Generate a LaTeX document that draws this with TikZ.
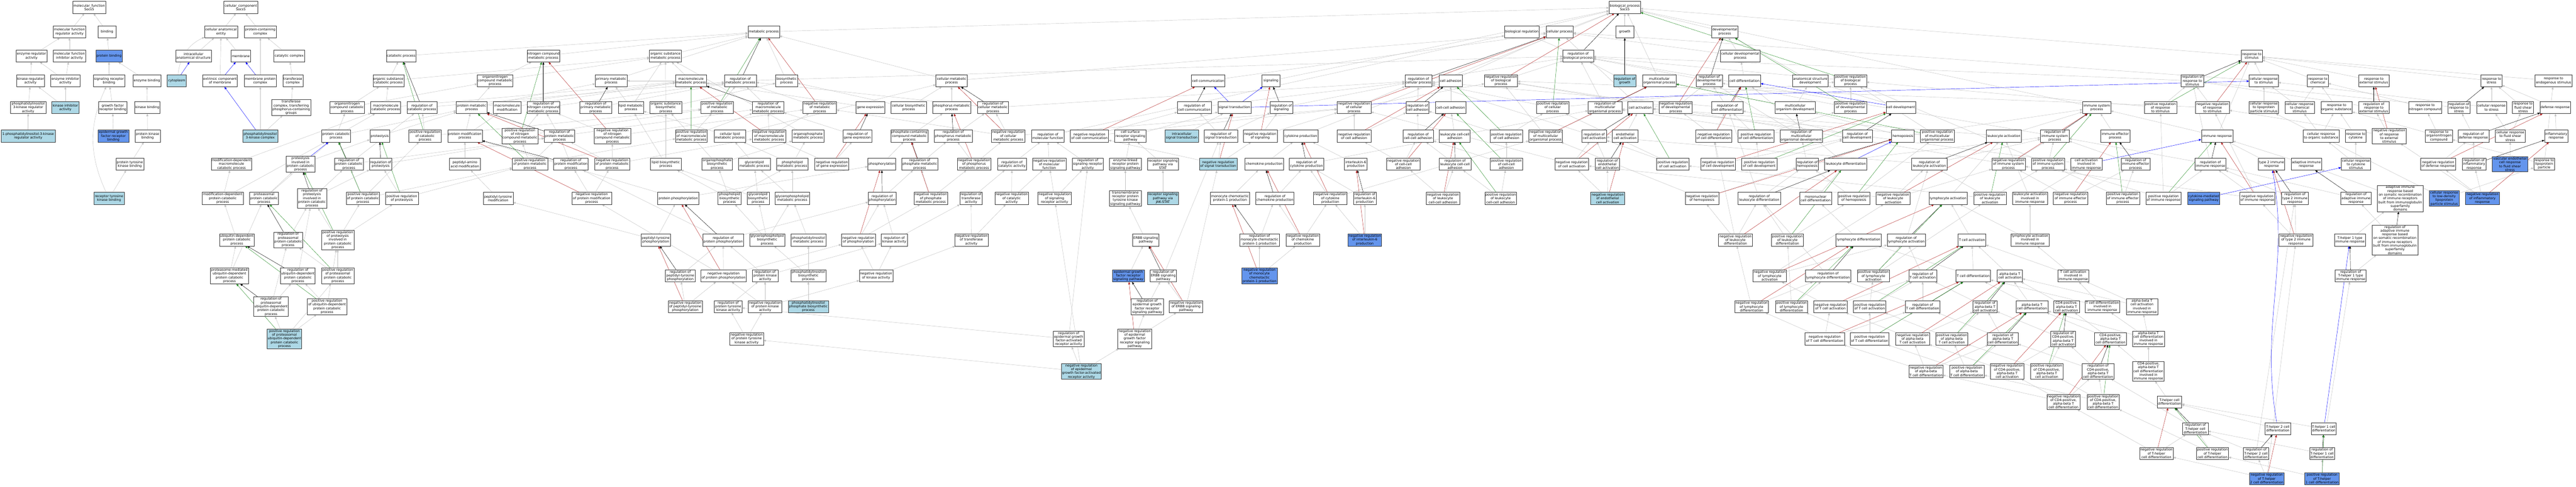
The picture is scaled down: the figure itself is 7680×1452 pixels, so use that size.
\documentclass[tikz,border=0pt]{standalone}
\usepackage{fontspec}
\setmainfont{DejaVu Sans}
\usetikzlibrary{arrows.meta}
\definecolor{hitlight}{RGB}{173,216,230}
\definecolor{hitdark}{RGB}{100,149,237}
\definecolor{edgegray}{RGB}{192,192,192}
\definecolor{negred}{RGB}{178,34,34}
\definecolor{posgreen}{RGB}{34,139,34}
\pgfdeclarelayer{background}
\pgfsetlayers{background,main}
\tikzset{
    term/.style={draw=black!80, fill=white, line width=0.8pt, align=center,
        inner xsep=1pt, inner ysep=2pt, minimum height=36pt,
        font=\fontsize{9.8}{11.2}\selectfont},
    lighthit/.style={term, fill=hitlight},
    darkhit/.style={term, fill=hitdark},
    isa/.style={draw=edgegray, line width=0.7pt,
        -{Triangle[length=7pt, width=6pt]}},
    regs/.style={isa, draw=black},
    posregs/.style={isa, draw=posgreen},
    negregs/.style={isa, draw=negred},
    partof/.style={isa, draw=blue},
}

\begin{document}
\begin{tikzpicture}[x=1pt, y=-1pt]
        \useasboundingbox (0,0) rectangle (7680,1452);

        % molecular function
        \node[term, minimum width=99pt] (mfroot) at (266,22) {molecular\_function\\Socs5};
        \node[term, minimum width=97pt] (mfreg) at (207,95) {molecular function\\regulator activity};
        \node[term, minimum width=55pt] (binding) at (319,95) {binding};
        \node[term, minimum width=92pt] (enzreg) at (94,167) {enzyme regulator\\activity};
        \node[term, minimum width=97pt] (mfinh) at (207,167) {molecular function\\inhibitor activity};
        \node[darkhit, minimum width=79pt] (protbind) at (325,167) {protein binding};
        \node[term, minimum width=84pt] (kinreg) at (91,241) {kinase regulator\\activity};
        \node[term, minimum width=87pt] (enzinh) at (195,241) {enzyme inhibitor\\activity};
        \node[term, minimum width=93pt] (sigrecbind) at (325,241) {signaling receptor\\binding};
        \node[term, minimum width=83pt] (enzbind) at (438,241) {enzyme binding};
        \node[term, minimum width=105pt] (pi3kreg) at (84,321) {phosphatidylinositol\\3-kinase regulator\\activity};
        \node[lighthit, minimum width=81pt] (kininh) at (195,321) {kinase inhibitor\\activity};
        \node[term, minimum width=85pt] (gfrecbind) at (336,321) {growth factor\\receptor binding};
        \node[term, minimum width=76pt] (kinbind) at (439,321) {kinase binding};
        \node[lighthit, minimum width=161pt] (onepi3kreg) at (84,406) {1-phosphatidylinositol-3-kinase\\regulator activity};
        \node[darkhit, minimum width=92pt] (egfrecbind) at (338,406) {epidermal growth\\factor receptor\\binding};
        \node[term, minimum width=75pt] (pkinbind) at (440,406) {protein kinase\\binding};
        \node[term, minimum width=83pt] (ptkbind) at (387,490) {protein tyrosine\\kinase binding};
        \node[lighthit, minimum width=90pt] (rtkbind) at (325,592) {receptor tyrosine\\kinase binding};

        % cellular component
        \node[term, minimum width=102pt] (ccroot) at (718,22) {cellular\_component\\Socs5};
        \node[term, minimum width=98pt] (ccanat) at (659,95) {cellular anatomical\\entity};
        \node[term, minimum width=94pt] (protcomplex) at (776,95) {protein-containing\\complex};
        \node[term, minimum width=107pt] (intracell) at (577,167) {intracellular\\anatomical structure};
        \node[term, minimum width=59pt] (membrane) at (718,167) {membrane};
        \node[term, minimum width=92pt] (catcomplex) at (862,167) {catalytic complex};
        \node[lighthit, minimum width=57pt] (cytoplasm) at (527,241) {cytoplasm};
        \node[term, minimum width=103pt] (extmem) at (656,241) {extrinsic component\\of membrane};
        \node[term, minimum width=95pt] (memprotcomplex) at (776,241) {membrane protein\\complex};
        \node[term, minimum width=60pt] (transcomplex) at (873,241) {transferase\\complex};
        \node[term, minimum width=117pt] (transphos) at (868,321) {transferase\\complex, transferring\\phosphorus-containing\\groups};
        \node[lighthit, minimum width=104pt] (pi3kcomplex) at (776,406) {phosphatidylinositol\\3-kinase complex};

        % biological process, ranks 0-3
        \node[term, minimum width=94pt] (bproot) at (4844,22) {biological\_process\\Socs5};
        \node[term, minimum width=94pt] (metab) at (2277,95) {metabolic process};
        \node[term, minimum width=104pt] (bioreg) at (4537,95) {biological regulation};
        \node[term, minimum width=81pt] (cellproc) at (4650,95) {cellular process};
        \node[term, minimum width=54pt] (growth) at (4844,95) {growth};
        \node[term, minimum width=78pt] (devproc) at (5142,95) {developmental\\process};
        \node[term, minimum width=88pt] (catab) at (1196,167) {catabolic process};
        \node[term, minimum width=96pt] (nitromet) at (1620,167) {nitrogen compound\\metabolic process};
        \node[term, minimum width=95pt] (orgsubmet) at (1984,167) {organic substance\\metabolic process};
        \node[term, minimum width=91pt] (regbio) at (4705,167) {regulation of\\biological process};
        \node[term, minimum width=118pt] (celldevproc) at (5188,167) {cellular developmental\\process};
        \node[term, minimum width=63pt] (respstim) at (6713,167) {response to\\stimulus};
        \node[term, minimum width=92pt] (orgsubcat) at (1158,241) {organic substance\\catabolic process};
        \node[term, minimum width=106pt] (orgnitmet) at (1476,241) {organonitrogen\\compound metabolic\\process};
        \node[term, minimum width=95pt] (primmet) at (1822,241) {primary metabolic\\process};
        \node[term, minimum width=93pt] (macromet) at (2060,241) {macromolecule\\metabolic process};
        \node[term, minimum width=95pt] (regmetab) at (2207,241) {regulation of\\metabolic process};
        \node[term, minimum width=66pt] (biosyn) at (2345,241) {biosynthetic\\process};
        \node[term, minimum width=94pt] (cellmet) at (2837,241) {cellular metabolic\\process};
        \node[term, minimum width=100pt] (cellcomm) at (3602,241) {cell communication};
        \node[term, minimum width=54pt] (signaling) at (3789,241) {signaling};
        \node[term, minimum width=81pt] (regcellproc) at (4229,241) {regulation of\\cellular process};
        \node[term, minimum width=69pt] (celladh) at (4325,241) {cell adhesion};
        \node[term, minimum width=99pt] (negregbio) at (4475,241) {negative regulation\\of biological\\process};
        \node[lighthit, minimum width=65pt] (reggrowth) at (4844,241) {regulation of\\growth};
        \node[term, minimum width=100pt] (multorg) at (4947,241) {multicellular\\organismal process};
        \node[term, minimum width=78pt] (regdev) at (5096,241) {regulation of\\developmental\\process};
        \node[term, minimum width=96pt] (celldiff) at (5201,241) {cell differentiation};
        \node[term, minimum width=107pt] (anatdev) at (5397,241) {anatomical structure\\development};
        \node[term, minimum width=96pt] (posregbio) at (5517,241) {positive regulation\\of biological\\process};
        \node[term, minimum width=68pt] (regresp) at (6536,241) {regulation of\\response to\\stimulus};
        \node[term, minimum width=87pt] (cellrespstim) at (6749,241) {cellular response\\to stimulus};
        \node[term, minimum width=62pt] (respchem) at (6910,241) {response to\\chemical};
        \node[term, minimum width=91pt] (respext) at (7077,241) {response to\\external stimulus};
        \node[term, minimum width=63pt] (respstress) at (7428,241) {response to\\stress};
        \node[term, minimum width=110pt] (respendo) at (7613,241) {response to\\endogenous stimulus};

        % rank 4
        \node[term, minimum width=103pt] (orgnitcat) at (1035,321) {organonitrogen\\compound catabolic\\process};
        \node[term, minimum width=89pt] (macrocat) at (1150,321) {macromolecule\\catabolic process};
        \node[term, minimum width=89pt] (regcatab) at (1258,321) {regulation of\\catabolic process};
        \node[term, minimum width=91pt] (protmet) at (1406,321) {protein metabolic\\process};
        \node[term, minimum width=82pt] (macromod) at (1512,321) {macromolecule\\modification};
        \node[term, minimum width=96pt] (regnitmet) at (1620,321) {regulation of\\nitrogen compound\\metabolic process};
        \node[term, minimum width=94pt] (regprimmet) at (1776,321) {regulation of\\primary metabolic\\process};
        \node[term, minimum width=76pt] (lipidmet) at (1881,321) {lipid metabolic\\process};
        \node[term, minimum width=94pt] (orgsubbio) at (1985,321) {organic substance\\biosynthetic\\process};
        \node[term, minimum width=96pt] (posregmet) at (2138,321) {positive regulation\\of metabolic\\process};
        \node[term, minimum width=94pt] (regmacromet) at (2290,321) {regulation of\\macromolecule\\metabolic process};
        \node[term, minimum width=100pt] (negregmet) at (2444,321) {negative regulation\\of metabolic\\process};
        \node[term, minimum width=86pt] (geneexp) at (2595,321) {gene expression};
        \node[term, minimum width=106pt] (cellbio) at (2709,321) {cellular biosynthetic\\process};
        \node[term, minimum width=114pt] (phosmet) at (2837,321) {phosphorus metabolic\\process};
        \node[term, minimum width=93pt] (regcellmet) at (2960,321) {regulation of\\cellular metabolic\\process};
        \node[term, minimum width=102pt] (regcellcomm) at (3561,321) {regulation of\\cell communication};
        \node[term, minimum width=98pt] (sigtrans) at (3680,321) {signal transduction};
        \node[term, minimum width=67pt] (regsig) at (3820,321) {regulation of\\signaling};
        \node[term, minimum width=101pt] (negregcell) at (4037,321) {negative regulation\\of cellular\\process};
        \node[term, minimum width=68pt] (regcelladh) at (4226,321) {regulation of\\cell adhesion};
        \node[term, minimum width=90pt] (cellcelladh) at (4325,321) {cell-cell adhesion};
        \node[term, minimum width=98pt] (posregcell) at (4629,321) {positive regulation\\of cellular\\process};
        \node[term, minimum width=101pt] (regmultorg) at (4785,321) {regulation of\\multicellular\\organismal process};
        \node[term, minimum width=76pt] (cellact) at (4890,321) {cell activation};
        \node[term, minimum width=98pt] (negregdev) at (4996,321) {negative regulation\\of developmental\\process};
        \node[term, minimum width=93pt] (regcelldiff) at (5150,321) {regulation of\\cell differentiation};
        \node[term, minimum width=119pt] (multdev) at (5352,321) {multicellular\\organism development};
        \node[term, minimum width=96pt] (posregdev) at (5517,321) {positive regulation\\of developmental\\process};
        \node[term, minimum width=88pt] (celldev) at (5667,321) {cell development};
        \node[term, minimum width=84pt] (immsys) at (6251,321) {immune system\\process};
        \node[term, minimum width=97pt] (posregresp) at (6441,321) {positive regulation\\of response\\to stimulus};
        \node[term, minimum width=101pt] (negregresp) at (6596,321) {negative regulation\\of response\\to stimulus};
        \node[term, minimum width=87pt] (cellresplipo) at (6749,321) {cellular response\\to lipoprotein\\particle stimulus};
        \node[term, minimum width=87pt] (respchemcell) at (6856,321) {cellular response\\to chemical\\stimulus};
        \node[term, minimum width=93pt] (resporg) at (6966,321) {response to\\organic substance};
        \node[term, minimum width=91pt] (regrespext) at (7077,321) {regulation of\\response to\\external stimulus};
        \node[term, minimum width=99pt] (respnit) at (7230,321) {response to\\nitrogen compound};
        \node[term, minimum width=67pt] (regrespstress) at (7331,321) {regulation of\\response to\\stress};
        \node[term, minimum width=89pt] (cellrespstress) at (7428,321) {cellular response\\to stress};
        \node[term, minimum width=63pt] (respshear) at (7522,321) {response to\\fluid shear\\stress};
        \node[term, minimum width=90pt] (defresp) at (7618,321) {defense response};

        % rank 5
        \node[term, minimum width=86pt] (protcat) at (1002,406) {protein catabolic\\process};
        \node[term, minimum width=59pt] (proteolysis) at (1132,406) {proteolysis};
        \node[term, minimum width=96pt] (posregcatab) at (1267,406) {positive regulation\\of catabolic\\process};
        \node[term, minimum width=103pt] (protmod) at (1386,406) {protein modification\\process};
        \node[term, minimum width=108pt] (posregnitmet) at (1550,406) {positive regulation\\of nitrogen\\compound metabolic\\process};
        \node[term, minimum width=91pt] (regprotmet) at (1668,406) {regulation of\\protein metabolic\\process};
        \node[term, minimum width=108pt] (negregnitmet) at (1826,406) {negative regulation\\of nitrogen\\compound metabolic\\process};
        \node[term, minimum width=94pt] (posregmacromet) at (2061,406) {positive regulation\\of macromolecule\\metabolic process};
        \node[term, minimum width=93pt] (celllipid) at (2176,406) {cellular lipid\\metabolic process};
        \node[term, minimum width=101pt] (negregmacromet) at (2293,406) {negative regulation\\of macromolecule\\metabolic process};
        \node[term, minimum width=95pt] (orgphosmet) at (2409,406) {organophosphate\\metabolic process};
        \node[term, minimum width=86pt] (reggeneexp) at (2556,406) {regulation of\\gene expression};
        \node[term, minimum width=110pt] (phoscontmet) at (2711,406) {phosphate-containing\\compound metabolic\\process};
        \node[term, minimum width=114pt] (regphosmet) at (2842,406) {regulation of\\phosphorus metabolic\\process};
        \node[term, minimum width=100pt] (negregcellmet) at (3006,406) {negative regulation\\of cellular\\metabolic process};
        \node[term, minimum width=96pt] (regmolfunc) at (3124,406) {regulation of\\molecular function};
        \node[term, minimum width=114pt] (negregcellcomm) at (3248,406) {negative regulation\\of cell communication};
        \node[term, minimum width=94pt] (cellsurf) at (3370,406) {cell surface\\receptor signaling\\pathway};
        \node[lighthit, minimum width=99pt] (intrasig) at (3523,406) {intracellular\\signal transduction};
        \node[term, minimum width=100pt] (regsigtrans) at (3640,406) {regulation of\\signal transduction};
        \node[term, minimum width=101pt] (negregsig) at (3757,406) {negative regulation\\of signaling};
        \node[term, minimum width=102pt] (cytprod) at (3878,406) {cytokine production};
        \node[term, minimum width=100pt] (negregcelladh) at (4037,406) {negative regulation\\of cell adhesion};
        \node[term, minimum width=91pt] (regccadh) at (4228,406) {regulation of\\cell-cell adhesion};
        \node[term, minimum width=92pt] (leukccadh) at (4337,406) {leukocyte cell-cell\\adhesion};
        \node[term, minimum width=97pt] (posregcelladh) at (4491,406) {positive regulation\\of cell adhesion};
        \node[term, minimum width=100pt] (negregmultorg) at (4608,406) {negative regulation\\of multicellular\\organismal process};
        \node[term, minimum width=74pt] (regcellact) at (4753,406) {regulation of\\cell activation};
        \node[term, minimum width=76pt] (endoact) at (4845,406) {endothelial\\cell activation};
        \node[term, minimum width=108pt] (negregcelldiff) at (5109,406) {negative regulation\\of cell differentiation};
        \node[term, minimum width=109pt] (posregcelldiff) at (5235,406) {positive regulation\\of cell differentiation};
        \node[term, minimum width=127pt] (regmultdev) at (5370,406) {regulation of\\multicellular\\organismal development};
        \node[term, minimum width=89pt] (regcelldev) at (5537,406) {regulation of\\cell development};
        \node[term, minimum width=67pt] (hemopoiesis) at (5673,406) {hemopoiesis};
        \node[term, minimum width=101pt] (posregmultorg) at (5776,406) {positive regulation\\of multicellular\\organismal process};
        \node[term, minimum width=105pt] (leukact) at (5974,406) {leukocyte activation};
        \node[term, minimum width=86pt] (regimmsys) at (6126,406) {regulation of\\immune system\\process};
        \node[term, minimum width=87pt] (immeff) at (6306,406) {immune effector\\process};
        \node[term, minimum width=94pt] (immresp) at (6610,406) {immune response};
        \node[term, minimum width=106pt] (respcellorg) at (6920,406) {cellular response\\to organic substance};
        \node[term, minimum width=62pt] (respcyt) at (7023,406) {response to\\cytokine};
        \node[term, minimum width=101pt] (negregrespext) at (7123,406) {negative regulation\\of response\\to external\\stimulus};
        \node[term, minimum width=80pt] (respornit) at (7271,406) {response to\\organonitrogen\\compound};
        \node[term, minimum width=92pt] (regdef) at (7374,406) {regulation of\\defense response};
        \node[term, minimum width=89pt] (cellrespshear) at (7484,406) {cellular response\\to fluid shear\\stress};
        \node[term, minimum width=70pt] (inflam) at (7621,406) {inflammatory\\response};

        % rank 6
        \node[term, minimum width=121pt] (moddepmacrocat) at (690,490) {modification-dependent\\macromolecule\\catabolic process};
        \node[term, minimum width=86pt] (proteolysispcp) at (896,490) {proteolysis\\involved in\\protein catabolic\\process};
        \node[term, minimum width=87pt] (regprotcat) at (1040,490) {regulation of\\protein catabolic\\process};
        \node[term, minimum width=67pt] (regproteolysis) at (1135,490) {regulation of\\proteolysis};
        \node[term, minimum width=91pt] (peptaamod) at (1386,490) {peptidyl-amino\\acid modification};
        \node[term, minimum width=105pt] (posregprotmet) at (1580,490) {positive regulation\\of protein metabolic\\process};
        \node[term, minimum width=103pt] (regprotmod) at (1702,490) {regulation of\\protein modification\\process};
        \node[term, minimum width=105pt] (negregprotmet) at (1825,490) {negative regulation\\of protein metabolic\\process};
        \node[term, minimum width=91pt] (lipidbio) at (1985,490) {lipid biosynthetic\\process};
        \node[term, minimum width=91pt] (orgphosbio) at (2138,490) {organophosphate\\biosynthetic\\process};
        \node[term, minimum width=94pt] (glycerolipmet) at (2249,490) {glycerolipid\\metabolic process};
        \node[term, minimum width=95pt] (phoslipmet) at (2362,490) {phospholipid\\metabolic process};
        \node[term, minimum width=101pt] (negreggeneexp) at (2480,490) {negative regulation\\of gene expression};
        \node[term, minimum width=83pt] (phosphorylation) at (2629,490) {phosphorylation};
        \node[term, minimum width=108pt] (regphosphmet) at (2742,490) {regulation of\\phosphate metabolic\\process};
        \node[term, minimum width=100pt] (negregphosmet) at (2904,490) {negative regulation\\of phosphorus\\metabolic process};
        \node[term, minimum width=87pt] (regcatact) at (3017,490) {regulation of\\catalytic activity};
        \node[term, minimum width=100pt] (negregmolfunc) at (3128,490) {negative regulation\\of molecular\\function};
        \node[term, minimum width=92pt] (regsigrecact) at (3243,490) {regulation of\\signaling receptor\\activity};
        \node[term, minimum width=94pt] (enzlinked) at (3355,490) {enzyme-linked\\receptor protein\\signaling pathway};
        \node[term, minimum width=91pt] (stat) at (3467,490) {receptor signaling\\pathway via\\STAT};
        \node[lighthit, minimum width=112pt] (negregsigtrans) at (3632,490) {negative regulation\\of signal transduction};
        \node[term, minimum width=114pt] (chemprod) at (3769,490) {chemokine production};
        \node[term, minimum width=102pt] (regcytprod) at (3895,490) {regulation of\\cytokine production};
        \node[term, minimum width=67pt] (il6prod) at (4042,490) {interleukin-6\\production};
        \node[term, minimum width=100pt] (negregccadh) at (4184,490) {negative regulation\\of cell-cell\\adhesion};
        \node[term, minimum width=94pt] (regleukccadh) at (4338,490) {regulation of\\leukocyte cell-cell\\adhesion};
        \node[term, minimum width=97pt] (posregccadh) at (4491,490) {positive regulation\\of cell-cell\\adhesion};
        \node[term, minimum width=101pt] (negregcellact) at (4686,490) {negative regulation\\of cell activation};
        \node[term, minimum width=73pt] (regendoact) at (4792,490) {regulation of\\endothelial\\cell activation};
        \node[term, minimum width=96pt] (posregcellact) at (4987,490) {positive regulation\\of cell activation};
        \node[term, minimum width=102pt] (negregcelldev) at (5122,490) {negative regulation\\of cell development};
        \node[term, minimum width=105pt] (posregcelldev) at (5245,490) {positive regulation\\of cell development};
        \node[term, minimum width=67pt] (reghemo) at (5388,490) {regulation of\\hemopoiesis};
        \node[term, minimum width=126pt] (leukdiff) at (5503,490) {leukocyte differentiation};
        \node[term, minimum width=106pt] (regleukact) at (5752,490) {regulation of\\leukocyte activation};
        \node[term, minimum width=100pt] (negregimmsys) at (5988,490) {negative regulation\\of immune system\\process};
        \node[term, minimum width=97pt] (posregimmsys) at (6106,490) {positive regulation\\of immune system\\process};
        \node[term, minimum width=94pt] (cellactimm) at (6220,490) {cell activation\\involved in\\immune response};
        \node[term, minimum width=86pt] (regimmeff) at (6367,490) {regulation of\\immune effector\\process};
        \node[term, minimum width=92pt] (regimmresp) at (6590,490) {regulation of\\immune response};
        \node[term, minimum width=79pt] (type2) at (6772,490) {type 2 immune\\response};
        \node[term, minimum width=91pt] (adaptimm) at (6876,490) {adaptive immune\\response};
        \node[term, minimum width=88pt] (cellrespcyt) at (7024,490) {cellular response\\to cytokine\\stimulus};
        \node[term, minimum width=105pt] (negregdef) at (7269,490) {negative regulation\\of defense response};
        \node[term, minimum width=71pt] (reginflam) at (7376,490) {regulation of\\inflammatory\\response};
        \node[darkhit, minimum width=105pt] (vascshear) at (7483,490) {vascular endothelial\\cell response\\to fluid shear\\stress};
        \node[term, minimum width=62pt] (resplipo) at (7585,490) {response to\\lipoprotein\\particle};

        % rank 7
        \node[term, minimum width=122pt] (moddepprotcat) at (664,592) {modification-dependent\\protein catabolic\\process};
        \node[term, minimum width=86pt] (proteasomalpcp) at (787,592) {proteasomal\\protein catabolic\\process};
        \node[term, minimum width=87pt] (regproteolysispcp) at (930,592) {regulation of\\proteolysis\\involved in\\protein catabolic\\process};
        \node[term, minimum width=99pt] (posregprotcat) at (1082,592) {positive regulation\\of protein catabolic\\process};
        \node[term, minimum width=98pt] (posregproteolysis) at (1198,592) {positive regulation\\of proteolysis};
        \node[term, minimum width=89pt] (peptyrmod) at (1485,592) {peptidyl-tyrosine\\modification};
        \node[term, minimum width=118pt] (negregprotmod) at (1764,592) {negative regulation\\of protein modification\\process};
        \node[term, minimum width=122pt] (protphos) at (2022,592) {protein phosphorylation};
        \node[term, minimum width=69pt] (phoslipbio) at (2175,592) {phospholipid\\biosynthetic\\process};
        \node[term, minimum width=66pt] (glycerolipbio) at (2260,592) {glycerolipid\\biosynthetic\\process};
        \node[term, minimum width=103pt] (glycerophosmet) at (2362,592) {glycerophospholipid\\metabolic process};
        \node[term, minimum width=83pt] (regphosphorylation) at (2630,592) {regulation of\\phosphorylation};
        \node[term, minimum width=99pt] (negregphosphmet) at (2775,592) {negative regulation\\of phosphate\\metabolic process};
        \node[term, minimum width=67pt] (regtransact) at (2895,592) {regulation of\\transferase\\activity};
        \node[term, minimum width=100pt] (negregcatact) at (3016,592) {negative regulation\\of catalytic\\activity};
        \node[term, minimum width=100pt] (negregsigrecact) at (3144,592) {negative regulation\\of signaling\\receptor activity};
        \node[term, minimum width=94pt] (tmrptk) at (3355,592) {transmembrane\\receptor protein\\tyrosine kinase\\signaling pathway};
        \node[lighthit, minimum width=91pt] (jakstat) at (3467,592) {receptor signaling\\pathway via\\JAK-STAT};
        \node[term, minimum width=116pt] (mcp1prod) at (3667,592) {monocyte chemotactic\\protein-1 production};
        \node[term, minimum width=114pt] (regchemprod) at (3801,592) {regulation of\\chemokine production};
        \node[term, minimum width=100pt] (negregcytprod) at (3966,592) {negative regulation\\of cytokine\\production};
        \node[term, minimum width=67pt] (regil6prod) at (4069,592) {regulation of\\interleukin-6\\production};
        \node[term, minimum width=99pt] (negregleukccadh) at (4302,592) {negative regulation\\of leukocyte\\cell-cell adhesion};
        \node[term, minimum width=95pt] (posregleukccadh) at (4474,592) {positive regulation\\of leukocyte\\cell-cell adhesion};
        \node[lighthit, minimum width=101pt] (negregendoact) at (4793,592) {negative regulation\\of endothelial\\cell activation};
        \node[term, minimum width=100pt] (negreghemo) at (5074,592) {negative regulation\\of hemopoiesis};
        \node[term, minimum width=126pt] (regleukdiff) at (5245,592) {regulation of\\leukocyte differentiation};
        \node[term, minimum width=96pt] (mononuc) at (5413,592) {mononuclear\\cell differentiation};
        \node[term, minimum width=95pt] (posreghemo) at (5527,592) {positive regulation\\of hemopoiesis};
        \node[term, minimum width=101pt] (negregleukact) at (5644,592) {negative regulation\\of leukocyte\\activation};
        \node[term, minimum width=115pt] (lymphact) at (5808,592) {lymphocyte activation};
        \node[term, minimum width=96pt] (posregleukact) at (5933,592) {positive regulation\\of leukocyte\\activation};
        \node[term, minimum width=104pt] (leukactimm) at (6052,592) {leukocyte activation\\involved in\\immune response};
        \node[term, minimum width=102pt] (negregimmeff) at (6173,592) {negative regulation\\of immune effector\\process};
        \node[term, minimum width=100pt] (posregimmeff) at (6329,592) {positive regulation\\of immune effector\\process};
        \node[term, minimum width=103pt] (posregimmresp) at (6450,592) {positive regulation\\of immune response};
        \node[darkhit, minimum width=96pt] (cytsig) at (6570,592) {cytokine-mediated\\signaling pathway};
        \node[term, minimum width=104pt] (negregimmresp) at (6730,592) {negative regulation\\of immune response};
        \node[term, minimum width=80pt] (regtype2) at (6842,592) {regulation of\\type 2 immune\\response};
        \node[term, minimum width=91pt] (regadaptimm) at (7024,592) {regulation of\\adaptive immune\\response};
        \node[term, minimum width=136pt] (adaptsomatic) at (7156,592) {adaptive immune\\response based\\on somatic recombination\\of immune receptors\\built from immunoglobulin\\superfamily\\domains};
        \node[darkhit, minimum width=89pt] (cellrespldl) at (7287,592) {cellular response\\to low-density\\lipoprotein\\particle stimulus};
        \node[darkhit, minimum width=101pt] (negreginflam) at (7401,592) {negative regulation\\of inflammatory\\response};

        % rank 8
        \node[term, minimum width=102pt] (ubiqpcp) at (706,716) {ubiquitin-dependent\\protein catabolic\\process};
        \node[term, minimum width=85pt] (regproteasomalpcp) at (859,716) {regulation of\\proteasomal\\protein catabolic\\process};
        \node[term, minimum width=96pt] (posregproteolysispcp) at (1007,716) {positive regulation\\of proteolysis\\involved in\\protein catabolic\\process};
        \node[term, minimum width=88pt] (peptyrphos) at (1955,716) {peptidyl-tyrosine\\phosphorylation};
        \node[term, minimum width=121pt] (regprotphos) at (2156,716) {regulation of\\protein phosphorylation};
        \node[term, minimum width=104pt] (glycerophosbio) at (2287,716) {glycerophospholipid\\biosynthetic\\process};
        \node[term, minimum width=104pt] (pimet) at (2410,716) {phosphatidylinositol\\metabolic process};
        \node[term, minimum width=101pt] (negregphosphorylation) at (2559,716) {negative regulation\\of phosphorylation};
        \node[term, minimum width=77pt] (regkinact) at (2666,716) {regulation of\\kinase activity};
        \node[term, minimum width=100pt] (negregtransact) at (2896,716) {negative regulation\\of transferase\\activity};
        \node[term, minimum width=79pt] (erbb) at (3416,716) {ERBB signaling\\pathway};
        \node[term, minimum width=117pt] (regmcp1) at (3755,716) {regulation of\\monocyte chemotactic\\protein-1 production};
        \node[term, minimum width=100pt] (negregchemprod) at (3884,716) {negative regulation\\of chemokine\\production};
        \node[darkhit, minimum width=100pt] (negregil6) at (4069,716) {negative regulation\\of interleukin-6\\production};
        \node[term, minimum width=102pt] (negregleukdiff) at (5174,716) {negative regulation\\of leukocyte\\differentiation};
        \node[term, minimum width=95pt] (posregleukdiff) at (5329,716) {positive regulation\\of leukocyte\\differentiation};
        \node[term, minimum width=136pt] (lymphdiff) at (5541,716) {lymphocyte differentiation};
        \node[term, minimum width=114pt] (reglymphact) at (5683,716) {regulation of\\lymphocyte activation};
        \node[term, minimum width=83pt] (tcellact) at (5879,716) {T cell activation};
        \node[term, minimum width=114pt] (lymphactimm) at (6052,716) {lymphocyte activation\\involved in\\immune response};
        \node[term, minimum width=102pt] (negregtype2) at (6845,716) {negative regulation\\of type 2 immune\\response};
        \node[term, minimum width=92pt] (th1resp) at (7006,716) {T-helper 1 type\\immune response};
        \node[term, minimum width=136pt] (regadaptsomatic) at (7140,716) {regulation of\\adaptive immune\\response based\\on somatic recombination\\of immune receptors\\built from immunoglobulin\\superfamily\\domains};

        % rank 9
        \node[term, minimum width=113pt] (proteasomeups) at (684,823) {proteasome-mediated\\ubiquitin-dependent\\protein catabolic\\process};
        \node[term, minimum width=103pt] (regubiqpcp) at (888,823) {regulation of\\ubiquitin-dependent\\protein catabolic\\process};
        \node[term, minimum width=96pt] (posregproteasomalpcp) at (1007,823) {positive regulation\\of proteasomal\\protein catabolic\\process};
        \node[term, minimum width=89pt] (regpeptyrphos) at (2028,823) {regulation of\\peptidyl-tyrosine\\phosphorylation};
        \node[term, minimum width=136pt] (negregprotphos) at (2157,823) {negative regulation\\of protein phosphorylation};
        \node[term, minimum width=76pt] (regprotkinact) at (2281,823) {regulation of\\protein kinase\\activity};
        \node[term, minimum width=104pt] (pibio) at (2410,823) {phosphatidylinositol\\biosynthetic\\process};
        \node[term, minimum width=100pt] (negregkinact) at (2612,823) {negative regulation\\of kinase activity};
        \node[darkhit, minimum width=96pt] (egfrsig) at (3364,823) {epidermal growth\\factor receptor\\signaling pathway};
        \node[term, minimum width=79pt] (regerbb) at (3468,823) {regulation of\\ERBB signaling\\pathway};
        \node[darkhit, minimum width=105pt] (negregmcp1) at (3755,823) {negative regulation\\of monocyte\\chemotactic\\protein-1 production};
        \node[term, minimum width=100pt] (neglymphact) at (5276,823) {negative regulation\\of lymphocyte\\activation};
        \node[term, minimum width=135pt] (reglymphdiff) at (5450,823) {regulation of\\lymphocyte differentiation};
        \node[term, minimum width=95pt] (posreglymphact) at (5585,823) {positive regulation\\of lymphocyte\\activation};
        \node[term, minimum width=83pt] (regtcellact) at (5732,823) {regulation of\\T cell activation};
        \node[term, minimum width=103pt] (tcelldiff) at (5883,823) {T cell differentiation};
        \node[term, minimum width=75pt] (abtcellact) at (5992,823) {alpha-beta T\\cell activation};
        \node[term, minimum width=93pt] (tcellactimm) at (6181,823) {T cell activation\\involved in\\immune response};
        \node[term, minimum width=92pt] (regth1resp) at (7008,823) {regulation of\\T-helper 1 type\\immune response};

        % rank 10
        \node[term, minimum width=103pt] (regproteasomalups) at (808,915) {regulation of\\proteasomal\\ubiquitin-dependent\\protein catabolic\\process};
        \node[term, minimum width=117pt] (posregubiqpcp) at (975,915) {positive regulation\\of ubiquitin-dependent\\protein catabolic\\process};
        \node[term, minimum width=102pt] (negregpeptyrphos) at (2043,915) {negative regulation\\of peptidyl-tyrosine\\phosphorylation};
        \node[term, minimum width=82pt] (regptkact) at (2171,915) {regulation of\\protein tyrosine\\kinase activity};
        \node[term, minimum width=100pt] (negregprotkinact) at (2281,915) {negative regulation\\of protein kinase\\activity};
        \node[lighthit, minimum width=119pt] (pipbio) at (2410,915) {phosphatidylinositol\\phosphate biosynthetic\\process};
        \node[term, minimum width=96pt] (regegfrsig) at (3420,915) {regulation of\\epidermal growth\\factor receptor\\signaling pathway};
        \node[term, minimum width=100pt] (negregerbb) at (3536,915) {negative regulation\\of ERBB signaling\\pathway};
        \node[term, minimum width=99pt] (negreglymphdiff) at (5222,915) {negative regulation\\of lymphocyte\\differentiation};
        \node[term, minimum width=96pt] (posreglymphdiff) at (5341,915) {positive regulation\\of lymphocyte\\differentiation};
        \node[term, minimum width=100pt] (negregtcellact) at (5457,915) {negative regulation\\of T cell activation};
        \node[term, minimum width=97pt] (posregtcellact) at (5574,915) {positive regulation\\of T cell activation};
        \node[term, minimum width=102pt] (regtcelldiff) at (5732,915) {regulation of\\T cell differentiation};
        \node[term, minimum width=72pt] (regabtcellact) at (5918,915) {regulation of\\alpha-beta T\\cell activation};
        \node[term, minimum width=96pt] (abtcelldiff) at (6058,915) {alpha-beta T\\cell differentiation};
        \node[term, minimum width=76pt] (cd4act) at (6161,915) {CD4-positive,\\alpha-beta T\\cell activation};
        \node[term, minimum width=103pt] (tcelldiffimm) at (6268,915) {T cell differentiation\\involved in\\immune response};
        \node[term, minimum width=94pt] (abtcellactimm) at (6386,915) {alpha-beta T\\cell activation\\involved in\\immune response};

        % ranks 11-16
        \node[lighthit, minimum width=103pt] (posregproteasomalups) at (848,1011) {positive regulation\\of proteasomal\\ubiquitin-dependent\\protein catabolic\\process};
        \node[term, minimum width=100pt] (negregptkact) at (2226,1011) {negative regulation\\of protein tyrosine\\kinase activity};
        \node[term, minimum width=91pt] (regegfact) at (3186,1011) {regulation of\\epidermal growth\\factor-activated\\receptor activity};
        \node[term, minimum width=101pt] (negregegfrsig) at (3383,1011) {negative regulation\\of epidermal\\growth factor\\receptor signaling\\pathway};
        \node[term, minimum width=117pt] (negregtcelldiff) at (5440,1011) {negative regulation\\of T cell differentiation};
        \node[term, minimum width=116pt] (posregtcelldiff) at (5574,1011) {positive regulation\\of T cell differentiation};
        \node[term, minimum width=100pt] (negregabtcellact) at (5702,1011) {negative regulation\\of alpha-beta\\T cell activation};
        \node[term, minimum width=96pt] (posregabtcellact) at (5819,1011) {positive regulation\\of alpha-beta\\T cell activation};
        \node[term, minimum width=92pt] (regabtcelldiff) at (5971,1011) {regulation of\\alpha-beta T\\cell differentiation};
        \node[term, minimum width=74pt] (regcd4act) at (6151,1011) {regulation of\\CD4-positive,\\alpha-beta T\\cell activation};
        \node[term, minimum width=95pt] (cd4diff) at (6292,1011) {CD4-positive,\\alpha-beta T\\cell differentiation};
        \node[term, minimum width=95pt] (abtcelldiffimm) at (6405,1011) {alpha-beta T\\cell differentiation\\involved in\\immune response};
        \node[lighthit, minimum width=118pt] (negregegfact) at (3224,1108) {negative regulation\\of epidermal\\growth factor-activated\\receptor activity};
        \node[term, minimum width=101pt] (negregabtcelldiff) at (5742,1108) {negative regulation\\of alpha-beta\\T cell differentiation};
        \node[term, minimum width=103pt] (posregabtcelldiff) at (5864,1108) {positive regulation\\of alpha-beta\\T cell differentiation};
        \node[term, minimum width=100pt] (negregcd4act) at (5984,1108) {negative regulation\\of CD4-positive,\\alpha-beta T\\cell activation};
        \node[term, minimum width=97pt] (posregcd4act) at (6102,1108) {positive regulation\\of CD4-positive,\\alpha-beta T\\cell activation};
        \node[term, minimum width=95pt] (regcd4diff) at (6255,1108) {regulation of\\CD4-positive,\\alpha-beta T\\cell differentiation};
        \node[term, minimum width=94pt] (cd4diffimm) at (6405,1108) {CD4-positive,\\alpha-beta T\\cell differentiation\\involved in\\immune response};
        \node[term, minimum width=99pt] (negregcd4diff) at (6152,1199) {negative regulation\\of CD4-positive,\\alpha-beta T\\cell differentiation};
        \node[term, minimum width=96pt] (posregcd4diff) at (6270,1199) {positive regulation\\of CD4-positive,\\alpha-beta T\\cell differentiation};
        \node[term, minimum width=73pt] (thdiff) at (6468,1199) {T-helper cell\\differentiation};
        \node[term, minimum width=76pt] (regthdiff) at (6545,1279) {regulation of\\T-helper cell\\differentiation};
        \node[term, minimum width=76pt] (th2diff) at (6791,1279) {T-helper 2 cell\\differentiation};
        \node[term, minimum width=74pt] (th1diff) at (6928,1279) {T-helper 1 cell\\differentiation};
        \node[term, minimum width=100pt] (negregthdiff) at (6429,1353) {negative regulation\\of T-helper\\cell differentiation};
        \node[term, minimum width=96pt] (posregthdiff) at (6596,1353) {positive regulation\\of T-helper\\cell differentiation};
        \node[term, minimum width=76pt] (regth2diff) at (6726,1353) {regulation of\\T-helper 2 cell\\differentiation};
        \node[term, minimum width=75pt] (regth1diff) at (6923,1353) {regulation of\\T-helper 1 cell\\differentiation};
        \node[darkhit, minimum width=103pt] (negregth2diff) at (6758,1428) {negative regulation\\of T-helper\\2 cell differentiation};
        \node[darkhit, minimum width=103pt] (posregth1diff) at (6923,1428) {positive regulation\\of T-helper\\1 cell differentiation};

        \begin{pgfonlayer}{background}
            \fill[white] (0,0) rectangle (7680,1452);

            % is_a edges
            \foreach \a/\b in {mfreg/mfroot, binding/mfroot, enzreg/mfreg, mfinh/mfreg,
                protbind/binding, kinreg/enzreg, enzinh/enzreg, enzinh/mfinh,
                sigrecbind/protbind, enzbind/protbind, pi3kreg/kinreg, kininh/kinreg,
                kininh/enzinh, gfrecbind/sigrecbind, kinbind/enzbind, onepi3kreg/pi3kreg,
                egfrecbind/gfrecbind, pkinbind/kinbind, ptkbind/pkinbind, rtkbind/ptkbind,
                ccanat/ccroot, protcomplex/ccroot, intracell/ccanat, membrane/ccanat,
                catcomplex/protcomplex, extmem/ccanat, memprotcomplex/protcomplex,
                transcomplex/catcomplex, transphos/transcomplex, pi3kcomplex/memprotcomplex,
                pi3kcomplex/transphos}
                \draw[isa] (\a) -- (\b);
            \draw[isa] (rtkbind) to[bend left=25] (sigrecbind);
            \draw[isa] (cytoplasm) to[bend left=30] (ccanat);

            \foreach \a/\b in {metab/bproot, bioreg/bproot, cellproc/bproot, growth/bproot,
                devproc/bproot, multorg/bproot, respstim/bproot, immsys/bproot,
                signaling/bproot, cytprod/bproot, catab/metab, nitromet/metab,
                orgsubmet/metab, primmet/metab, cellmet/metab, biosyn/metab,
                regbio/bioreg, celldevproc/devproc, celldevproc/cellproc, orgsubcat/catab,
                orgsubcat/orgsubmet, orgnitmet/nitromet, orgnitmet/orgsubmet,
                macromet/orgsubmet, macromet/primmet, regmetab/regbio, cellmet/cellproc,
                cellcomm/cellproc, regcellproc/regbio, celladh/cellproc, negregbio/regbio,
                reggrowth/regbio, regdev/regbio, celldiff/celldevproc, anatdev/devproc,
                posregbio/regbio, regresp/regbio, cellrespstim/respstim,
                cellrespstim/cellproc, respchem/respstim, respext/respstim,
                respstress/respstim, respendo/respstim}
                \draw[isa] (\a) -- (\b);

            \foreach \a/\b in {orgnitcat/orgsubcat, orgnitcat/orgnitmet, macrocat/orgsubcat,
                macrocat/macromet, regcatab/regmetab, protmet/orgnitmet, protmet/macromet,
                protmet/primmet, macromod/macromet, regnitmet/regmetab, regprimmet/regmetab,
                lipidmet/primmet, lipidmet/orgsubmet, orgsubbio/orgsubmet, orgsubbio/biosyn,
                posregmet/regmetab, regmacromet/regmetab, negregmet/regmetab,
                geneexp/macromet, cellbio/biosyn, cellbio/cellmet, phosmet/cellmet,
                regcellmet/regmetab, regcellmet/regcellproc, regcellcomm/regcellproc,
                regsig/regcellproc, negregcell/regcellproc, negregcell/negregbio,
                regcelladh/regcellproc, cellcelladh/celladh, posregcell/regcellproc,
                posregcell/posregbio, regmultorg/regbio, cellact/cellproc,
                negregdev/regdev, negregdev/negregbio, regcelldiff/regdev,
                regcelldiff/regcellproc, multdev/anatdev, multdev/multorg,
                posregdev/regdev, posregdev/posregbio, celldev/anatdev,
                posregresp/regresp, posregresp/posregbio, negregresp/regresp,
                negregresp/negregbio, cellresplipo/cellrespstim, respchemcell/respchem,
                respchemcell/cellrespstim, resporg/respchem, regrespext/regresp,
                respnit/respchem, regrespstress/regresp, cellrespstress/respstress,
                cellrespstress/cellrespstim, respshear/respstress, defresp/respstress}
                \draw[isa] (\a) -- (\b);

            \foreach \a/\b in {protcat/macrocat, protcat/orgnitcat, protcat/protmet,
                proteolysis/protmet, posregcatab/regcatab, posregcatab/posregmet,
                protmod/protmet, protmod/macromod, posregnitmet/regnitmet,
                posregnitmet/posregmet, regprotmet/regnitmet, regprotmet/regmacromet,
                negregnitmet/regnitmet, negregnitmet/negregmet, posregmacromet/posregmet,
                posregmacromet/regmacromet, celllipid/lipidmet, celllipid/cellmet,
                negregmacromet/regmacromet, negregmacromet/negregmet, orgphosmet/orgsubmet,
                reggeneexp/regmacromet, phoscontmet/phosmet, regphosmet/regcellmet,
                negregcellmet/regcellmet, negregcellmet/negregmet, negregcellmet/negregcell,
                regmolfunc/bioreg, negregcellcomm/regcellcomm, negregcellcomm/negregcell,
                cellsurf/sigtrans, intrasig/sigtrans, regsigtrans/regsig,
                regsigtrans/regcellcomm, negregsig/regsig, negregsig/negregcell,
                negregcelladh/regcelladh, negregcelladh/negregcell, regccadh/regcelladh,
                leukccadh/cellcelladh, posregcelladh/regcelladh, posregcelladh/posregcell,
                negregmultorg/regmultorg, negregmultorg/negregbio, regcellact/regcellproc,
                endoact/cellact, negregcelldiff/regcelldiff, negregcelldiff/negregdev,
                posregcelldiff/regcelldiff, posregcelldiff/posregdev,
                regmultdev/regmultorg, regmultdev/regdev, regcelldev/regcelldiff,
                hemopoiesis/multdev, hemopoiesis/immsys, posregmultorg/regmultorg,
                posregmultorg/posregbio, leukact/cellact, leukact/immsys,
                regimmsys/regbio, immeff/immsys, immresp/immsys, immresp/respstim,
                respcellorg/resporg, respcellorg/respchemcell, respcyt/resporg,
                negregrespext/regrespext, negregrespext/negregresp, respornit/respnit,
                respornit/resporg, regdef/regrespstress, cellrespshear/respshear,
                cellrespshear/cellrespstress, inflam/defresp}
                \draw[isa] (\a) -- (\b);

            \foreach \a/\b in {moddepmacrocat/macrocat, proteolysispcp/proteolysis,
                regprotcat/regcatab, regprotcat/regprotmet, regproteolysis/regprotmet,
                peptaamod/protmod, posregprotmet/regprotmet, posregprotmet/posregnitmet,
                posregprotmet/posregmacromet, regprotmod/regprotmet,
                negregprotmet/regprotmet, negregprotmet/negregnitmet,
                negregprotmet/negregmacromet, lipidbio/lipidmet, lipidbio/orgsubbio,
                orgphosbio/orgphosmet, orgphosbio/orgsubbio, glycerolipmet/celllipid,
                phoslipmet/celllipid, phoslipmet/orgphosmet, negreggeneexp/reggeneexp,
                negreggeneexp/negregmacromet, phosphorylation/phoscontmet,
                regphosphmet/regphosmet, negregphosmet/regphosmet,
                negregphosmet/negregcellmet, regcatact/regmolfunc, negregmolfunc/regmolfunc,
                regsigrecact/regmolfunc, enzlinked/cellsurf, stat/cellsurf,
                negregsigtrans/regsigtrans, negregsigtrans/negregsig,
                negregsigtrans/negregcellcomm, chemprod/cytprod, regcytprod/regmultorg,
                il6prod/cytprod, negregccadh/regccadh, negregccadh/negregcelladh,
                regleukccadh/regccadh, posregccadh/regccadh, posregccadh/posregcelladh,
                negregcellact/regcellact, negregcellact/negregcell, regendoact/regcellact,
                posregcellact/regcellact, posregcellact/posregcell,
                negregcelldev/regcelldev, negregcelldev/negregcelldiff,
                posregcelldev/regcelldev, posregcelldev/posregcelldiff,
                reghemo/regmultdev, reghemo/regimmsys, leukdiff/celldiff,
                regleukact/regcellact, regleukact/regimmsys, negregimmsys/regimmsys,
                negregimmsys/negregbio, posregimmsys/regimmsys, posregimmsys/posregbio,
                cellactimm/cellact, regimmeff/regimmsys, regimmresp/regimmsys,
                regimmresp/regresp, type2/immresp, adaptimm/immresp, cellrespcyt/respcyt,
                cellrespcyt/respcellorg, negregdef/regdef, reginflam/regdef,
                vascshear/cellrespshear, resplipo/respornit, resplipo/respendo}
                \draw[isa] (\a) -- (\b);

            \foreach \a/\b in {moddepprotcat/moddepmacrocat, moddepprotcat/protcat,
                proteasomalpcp/protcat, proteasomalpcp/proteolysispcp,
                regproteolysispcp/regprotcat, regproteolysispcp/regproteolysis,
                posregprotcat/regprotcat, posregprotcat/posregcatab,
                posregprotcat/posregprotmet, posregproteolysis/regproteolysis,
                posregproteolysis/posregprotmet, peptyrmod/peptaamod,
                negregprotmod/regprotmod, negregprotmod/negregprotmet, protphos/protmod,
                protphos/phosphorylation, phoslipbio/phoslipmet, phoslipbio/lipidbio,
                phoslipbio/orgphosbio, glycerolipbio/glycerolipmet, glycerolipbio/lipidbio,
                glycerophosmet/phoslipmet, glycerophosmet/glycerolipmet,
                regphosphorylation/regphosphmet, negregphosphmet/regphosphmet,
                negregphosphmet/negregphosmet, regtransact/regcatact,
                negregcatact/regcatact, negregcatact/negregmolfunc,
                negregsigrecact/regsigrecact, negregsigrecact/negregmolfunc,
                tmrptk/enzlinked, jakstat/stat, mcp1prod/chemprod, regchemprod/regcytprod,
                negregcytprod/regcytprod, negregcytprod/negregmultorg,
                regil6prod/regcytprod, negregleukccadh/regleukccadh,
                negregleukccadh/negregccadh, posregleukccadh/regleukccadh,
                posregleukccadh/posregccadh, negregendoact/regendoact,
                negregendoact/negregcellact, negreghemo/reghemo, negreghemo/negregmultorg,
                regleukdiff/reghemo, regleukdiff/regcelldiff, mononuc/leukdiff,
                posreghemo/reghemo, posreghemo/posregmultorg, negregleukact/regleukact,
                negregleukact/negregcellact, negregleukact/negregimmsys, lymphact/leukact,
                posregleukact/regleukact, posregleukact/posregcellact,
                posregleukact/posregimmsys, leukactimm/leukact, leukactimm/cellactimm,
                negregimmeff/regimmeff, negregimmeff/negregimmsys, posregimmeff/regimmeff,
                posregimmeff/posregimmsys, posregimmresp/regimmresp,
                posregimmresp/posregimmsys, posregimmresp/posregresp,
                negregimmresp/regimmresp, negregimmresp/negregimmsys,
                negregimmresp/negregresp, regtype2/regimmresp, regadaptimm/regimmresp,
                adaptsomatic/adaptimm, cellrespldl/resplipo, cellrespldl/cellresplipo,
                negreginflam/reginflam, negreginflam/negregdef, negreginflam/negregrespext}
                \draw[isa] (\a) -- (\b);

            \foreach \a/\b in {ubiqpcp/moddepprotcat, regproteasomalpcp/regproteolysispcp,
                posregproteolysispcp/regproteolysispcp, posregproteolysispcp/posregprotcat,
                posregproteolysispcp/posregproteolysis, peptyrphos/peptyrmod,
                peptyrphos/protphos, regprotphos/regprotmod, regprotphos/regphosphorylation,
                glycerophosbio/glycerophosmet, glycerophosbio/phoslipbio,
                glycerophosbio/glycerolipbio, pimet/glycerophosmet,
                negregphosphorylation/regphosphorylation,
                negregphosphorylation/negregphosphmet, regkinact/regphosphorylation,
                regkinact/regtransact, negregtransact/regtransact,
                negregtransact/negregcatact, erbb/tmrptk, regmcp1/regchemprod,
                negregchemprod/regchemprod, negregchemprod/negregcytprod,
                negregil6/regil6prod, negregil6/negregcytprod, negregleukdiff/regleukdiff,
                negregleukdiff/negreghemo, negregleukdiff/negregcelldiff,
                posregleukdiff/regleukdiff, posregleukdiff/posreghemo, lymphdiff/mononuc,
                reglymphact/regleukact, tcellact/lymphact, lymphactimm/lymphact,
                lymphactimm/leukactimm, negregtype2/regtype2, negregtype2/negregimmresp,
                th1resp/adaptsomatic, regadaptsomatic/regadaptimm,
                proteasomeups/ubiqpcp, proteasomeups/proteasomalpcp,
                regubiqpcp/regproteolysispcp, posregproteasomalpcp/regproteasomalpcp,
                posregproteasomalpcp/posregproteolysispcp, regpeptyrphos/regprotphos,
                negregprotphos/regprotphos, negregprotphos/negregprotmod,
                negregprotphos/negregphosphorylation, regprotkinact/regkinact,
                regprotkinact/regprotphos, pibio/pimet, pibio/glycerophosbio,
                negregkinact/regkinact, negregkinact/negregphosphorylation,
                negregkinact/negregtransact, egfrsig/erbb, regerbb/regsigtrans,
                negregmcp1/regmcp1, negregmcp1/negregchemprod, neglymphact/reglymphact,
                neglymphact/negregleukact, reglymphdiff/regleukdiff,
                posreglymphact/reglymphact, posreglymphact/posregleukact,
                regtcellact/reglymphact, tcelldiff/lymphdiff, tcelldiff/tcellact,
                abtcellact/tcellact, tcellactimm/tcellact, tcellactimm/lymphactimm,
                regth1resp/regadaptsomatic}
                \draw[isa] (\a) -- (\b);

            \foreach \a/\b in {regproteasomalups/regproteasomalpcp,
                regproteasomalups/regubiqpcp, posregubiqpcp/regubiqpcp,
                posregubiqpcp/posregproteolysispcp, negregpeptyrphos/regpeptyrphos,
                negregpeptyrphos/negregprotphos, regptkact/regprotkinact,
                negregprotkinact/regprotkinact, negregprotkinact/negregprotphos,
                negregprotkinact/negregkinact, pipbio/pibio, regegfrsig/regerbb,
                negregerbb/regerbb, negregerbb/negregsigtrans,
                negreglymphdiff/reglymphdiff, negreglymphdiff/negregleukdiff,
                posreglymphdiff/reglymphdiff, posreglymphdiff/posregleukdiff,
                negregtcellact/regtcellact, negregtcellact/neglymphact,
                posregtcellact/regtcellact, posregtcellact/posreglymphact,
                regtcelldiff/regtcellact, regtcelldiff/reglymphdiff,
                regabtcellact/regtcellact, abtcelldiff/tcelldiff, abtcelldiff/abtcellact,
                cd4act/abtcellact, tcelldiffimm/tcelldiff, tcelldiffimm/tcellactimm,
                abtcellactimm/abtcellact, abtcellactimm/tcellactimm,
                posregproteasomalups/regproteasomalups,
                posregproteasomalups/posregubiqpcp,
                posregproteasomalups/posregproteasomalpcp, negregptkact/regptkact,
                negregptkact/negregprotkinact, regegfact/regptkact,
                regegfact/regsigrecact, negregegfrsig/regegfrsig, negregegfrsig/negregerbb,
                negregtcelldiff/regtcelldiff, negregtcelldiff/negregtcellact,
                negregtcelldiff/negreglymphdiff, posregtcelldiff/regtcelldiff,
                posregtcelldiff/posregtcellact, posregtcelldiff/posreglymphdiff,
                negregabtcellact/regabtcellact, negregabtcellact/negregtcellact,
                posregabtcellact/regabtcellact, posregabtcellact/posregtcellact,
                regabtcelldiff/regtcelldiff, regabtcelldiff/regabtcellact,
                regcd4act/regabtcellact, cd4diff/abtcelldiff, cd4diff/cd4act,
                abtcelldiffimm/abtcelldiff, abtcelldiffimm/tcelldiffimm,
                abtcelldiffimm/abtcellactimm, negregegfact/regegfact,
                negregegfact/negregptkact, negregegfact/negregegfrsig,
                negregegfact/negregsigrecact, negregabtcelldiff/regabtcelldiff,
                negregabtcelldiff/negregtcelldiff, negregabtcelldiff/negregabtcellact,
                posregabtcelldiff/regabtcelldiff, posregabtcelldiff/posregtcelldiff,
                posregabtcelldiff/posregabtcellact, negregcd4act/regcd4act,
                negregcd4act/negregabtcellact, posregcd4act/regcd4act,
                posregcd4act/posregabtcellact, regcd4diff/regabtcelldiff,
                regcd4diff/regcd4act, cd4diffimm/cd4diff, cd4diffimm/abtcelldiffimm,
                negregcd4diff/regcd4diff, negregcd4diff/negregabtcelldiff,
                negregcd4diff/negregcd4act, posregcd4diff/regcd4diff,
                posregcd4diff/posregabtcelldiff, posregcd4diff/posregcd4act,
                thdiff/cd4diffimm, regthdiff/regcd4diff, th2diff/thdiff, th1diff/thdiff,
                negregthdiff/regthdiff, negregthdiff/negregcd4diff, posregthdiff/regthdiff,
                posregthdiff/posregcd4diff, regth2diff/regthdiff, regth2diff/regtype2,
                regth1diff/regthdiff, regth1diff/regth1resp, negregth2diff/regth2diff,
                negregth2diff/negregthdiff, negregth2diff/negregtype2,
                posregth1diff/regth1diff, posregth1diff/posregthdiff}
                \draw[isa] (\a) -- (\b);

            % part_of edges
            \foreach \a/\b in {cytoplasm/intracell, extmem/membrane, memprotcomplex/membrane,
                pi3kcomplex/extmem, proteolysispcp/protcat, sigtrans/signaling,
                sigtrans/cellcomm, sigtrans/cellrespstim, celldev/celldiff,
                leukdiff/hemopoiesis, cellactimm/immresp, cytsig/cellrespcyt,
                th1diff/th1resp}
                \draw[partof] (\a) -- (\b);
            \draw[partof] (th2diff) to[out=100, in=-80] (type2);

            % regulates edges
            \foreach \a/\b in {regcatab/catab, regnitmet/nitromet, regprimmet/primmet,
                regmacromet/macromet, regmetab/metab, regcellmet/cellmet,
                reggeneexp/geneexp, regphosmet/phosmet, regphosphmet/phoscontmet,
                regphosphorylation/phosphorylation, regprotmet/protmet,
                regprotcat/protcat, regproteolysis/proteolysis, regprotmod/protmod,
                regproteolysispcp/proteolysispcp, regproteasomalpcp/proteasomalpcp,
                regubiqpcp/ubiqpcp, regproteasomalups/proteasomeups, regprotphos/protphos,
                regpeptyrphos/peptyrphos, regcellcomm/cellcomm, regsigtrans/sigtrans,
                regsig/signaling, regerbb/erbb, regegfrsig/egfrsig, regbio/bproot,
                regcellproc/cellproc, regcelladh/celladh, regccadh/cellcelladh,
                regleukccadh/leukccadh, reggrowth/growth, regmultorg/multorg,
                regcellact/cellact, regendoact/endoact, regdev/devproc,
                regcelldiff/celldiff, regcytprod/cytprod, regchemprod/chemprod,
                regil6prod/il6prod, regmcp1/mcp1prod, regmultdev/multdev,
                regcelldev/celldev, reghemo/hemopoiesis, regleukact/leukact,
                regimmsys/immsys, regimmeff/immeff, regimmresp/immresp,
                regleukdiff/leukdiff, reglymphact/lymphact, regresp/respstim,
                reglymphdiff/lymphdiff, regtcellact/tcellact, regtcelldiff/tcelldiff,
                regabtcellact/abtcellact, regabtcelldiff/abtcelldiff, regcd4act/cd4act,
                regcd4diff/cd4diff, regthdiff/thdiff, regth2diff/th2diff,
                regth1diff/th1diff, regth1resp/th1resp, regadaptsomatic/adaptsomatic,
                regadaptimm/adaptimm, regtype2/type2, regrespext/respext,
                regrespstress/respstress, regdef/defresp, reginflam/inflam}
                \draw[regs] (\a) -- (\b);

            % positively regulates edges
            \foreach \a/\b in {posregcatab/catab, posregnitmet/nitromet,
                posregmacromet/macromet, posregmet/metab, posregprotmet/protmet,
                posregprotcat/protcat, posregproteolysis/proteolysis,
                posregproteolysispcp/proteolysispcp, posregproteasomalpcp/proteasomalpcp,
                posregubiqpcp/ubiqpcp, posregproteasomalups/proteasomeups,
                posregbio/bproot, posregcell/cellproc, posregcelladh/celladh,
                posregccadh/cellcelladh, posregleukccadh/leukccadh,
                posregcellact/cellact, posregdev/devproc, posregcelldiff/celldiff,
                posregcelldev/celldev, posregmultorg/multorg, posreghemo/hemopoiesis,
                posregimmsys/immsys, posregleukact/leukact, posregimmeff/immeff,
                posregimmresp/immresp, posregresp/respstim, posregleukdiff/leukdiff,
                posreglymphact/lymphact, posreglymphdiff/lymphdiff,
                posregtcellact/tcellact, posregtcelldiff/tcelldiff,
                posregabtcellact/abtcellact, posregabtcelldiff/abtcelldiff,
                posregcd4act/cd4act, posregcd4diff/cd4diff, posregthdiff/thdiff,
                posregth1diff/th1diff}
                \draw[posregs] (\a) -- (\b);

            % negatively regulates edges
            \foreach \a/\b in {negregnitmet/nitromet, negregmet/metab,
                negregmacromet/macromet, negregcellmet/cellmet, negreggeneexp/geneexp,
                negregphosmet/phosmet, negregphosphmet/phoscontmet,
                negregphosphorylation/phosphorylation, negregprotmet/protmet,
                negregprotmod/protmod, negregprotphos/protphos,
                negregpeptyrphos/peptyrphos, negregcellcomm/cellcomm,
                negregsigtrans/sigtrans, negregsig/signaling, negregerbb/erbb,
                negregegfrsig/egfrsig, negregbio/bproot, negregcell/cellproc,
                negregcelladh/celladh, negregccadh/cellcelladh,
                negregleukccadh/leukccadh, negregmultorg/multorg,
                negregcellact/cellact, negregendoact/endoact, negregdev/devproc,
                negregcelldiff/celldiff, negregcytprod/cytprod, negregchemprod/chemprod,
                negregil6/il6prod, negregmcp1/mcp1prod, negregcelldev/celldev,
                negreghemo/hemopoiesis, negregleukact/leukact, negregimmsys/immsys,
                negregimmeff/immeff, negregimmresp/immresp, negregresp/respstim,
                negregleukdiff/leukdiff, neglymphact/lymphact,
                negreglymphdiff/lymphdiff, negregtcellact/tcellact,
                negregtcelldiff/tcelldiff, negregabtcellact/abtcellact,
                negregabtcelldiff/abtcelldiff, negregcd4act/cd4act,
                negregcd4diff/cd4diff, negregthdiff/thdiff, negregth2diff/th2diff,
                negregtype2/type2, negregrespext/respext, negregdef/defresp,
                negreginflam/inflam}
                \draw[negregs] (\a) -- (\b);
        \end{pgfonlayer}
    \end{tikzpicture}
\end{document}
